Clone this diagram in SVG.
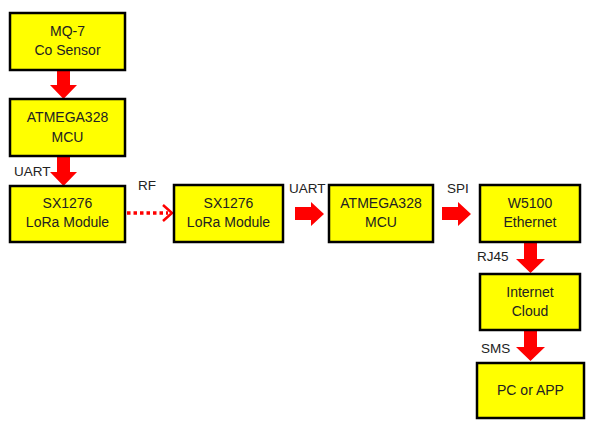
<svg xmlns="http://www.w3.org/2000/svg" width="592" height="432" viewBox="0 0 592 432">
<style>
.box{fill:#FFFF00;stroke:#000;stroke-width:2.5}
text{font-family:"Liberation Sans",Arial,sans-serif;font-size:14px;fill:#222;text-anchor:middle}
.lbl{text-anchor:start;font-size:13.5px}
.arr{fill:#FF0000}
</style>
<rect width="592" height="432" fill="#fff"/>
<g id="connectors">
<polygon class="arr" points="57,70 70,70 70,85 77,85 63.5,99 50,85 57,85"/>
<polygon class="arr" points="57,156 70,156 70,172 77,172 63.5,186 50,172 57,172"/>
<line x1="127" y1="213" x2="168" y2="213" stroke="#FF0000" stroke-width="3.5" stroke-dasharray="3.5,3"/>
<polyline points="163,205 172,213 163,221" fill="none" stroke="#FF0000" stroke-width="2.5"/>
<polygon class="arr" points="295,207 311,207 311,202 324,214 311,226 311,220 295,220"/>
<polygon class="arr" points="442,207 458,207 458,202 471,214 458,226 458,220 442,220"/>
<polygon class="arr" points="524,243 537,243 537,259 545,259 530.5,273 516,259 524,259"/>
<polygon class="arr" points="524,331 537,331 537,347 545,347 530.5,361 516,347 524,347"/>
<text class="lbl" x="14" y="176">UART</text>
<text class="lbl" x="138" y="190">RF</text>
<text class="lbl" x="289" y="193">UART</text>
<text class="lbl" x="447" y="193">SPI</text>
<text class="lbl" x="477" y="261">RJ45</text>
<text class="lbl" x="481" y="353">SMS</text>
</g>
<g id="mq7"><rect class="box" x="10" y="13" width="115" height="57"/><text x="67.5" y="36">MQ-7</text><text x="67.5" y="55">Co Sensor</text></g>
<g id="mcu1"><rect class="box" x="10" y="99" width="115" height="57"/><text x="67.5" y="122">ATMEGA328</text><text x="67.5" y="142">MCU</text></g>
<g id="lora1"><rect class="box" x="10" y="186" width="115" height="56"/><text x="67.5" y="208">SX1276</text><text x="67.5" y="227">LoRa Module</text></g>
<g id="lora2"><rect class="box" x="174" y="185" width="109" height="57"/><text x="228.5" y="208">SX1276</text><text x="228.5" y="227">LoRa Module</text></g>
<g id="mcu2"><rect class="box" x="329" y="185" width="104" height="57"/><text x="381" y="208">ATMEGA328</text><text x="381" y="227">MCU</text></g>
<g id="w5100"><rect class="box" x="480" y="185" width="100" height="57"/><text x="530" y="208">W5100</text><text x="530" y="227">Ethernet</text></g>
<g id="cloud"><rect class="box" x="480" y="274" width="100" height="56"/><text x="530" y="297">Internet</text><text x="530" y="316">Cloud</text></g>
<g id="pc"><rect class="box" x="477" y="363" width="107" height="55"/><text x="530.5" y="395">PC or APP</text></g>
</svg>
